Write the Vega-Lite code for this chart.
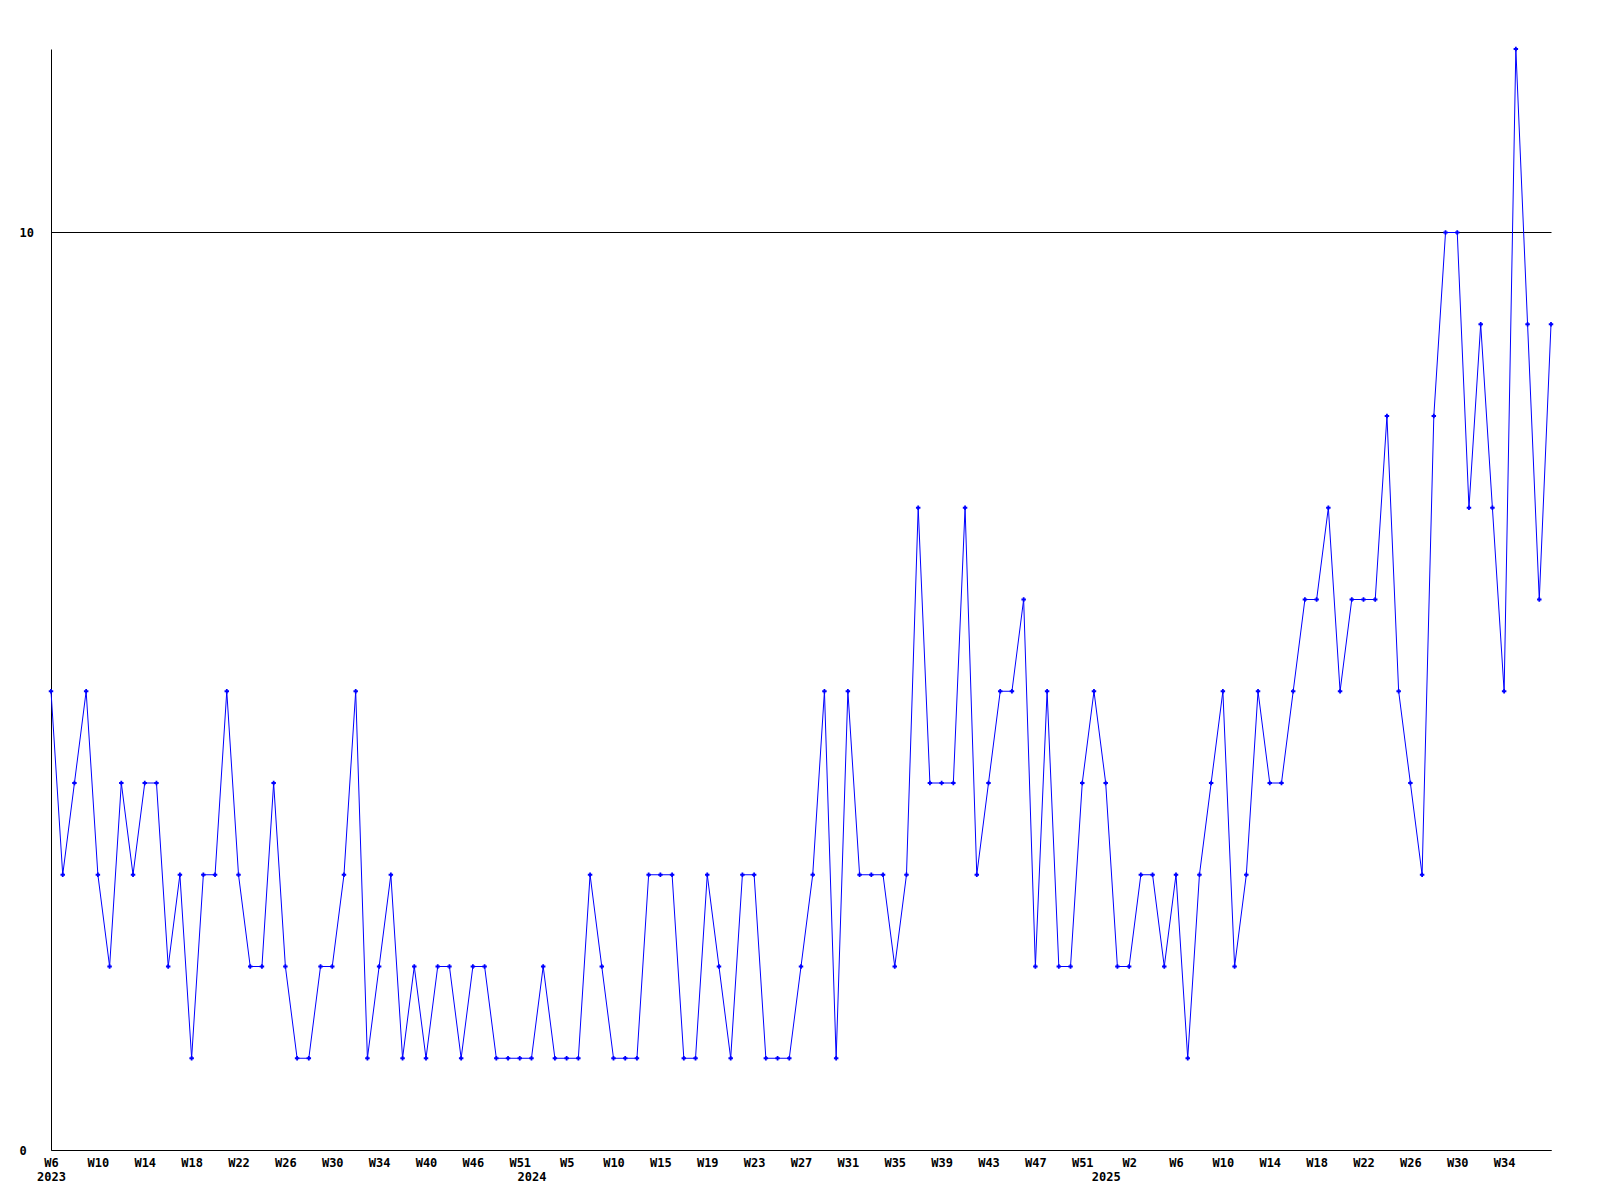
{
  "$schema": "https://vega.github.io/schema/vega-lite/v6.json",
  "width": 1500,
  "height": 1101,
  "autosize": {"type": "none"},
  "padding": {"left": 51, "top": 49, "right": 49, "bottom": 50},
  "background": "white",
  "config": {"view": {"stroke": null}},
  "data": {"values": [
    {"week": "2023-W6", "value": 5}, {"week": "2023-W7", "value": 3}, {"week": "2023-W8", "value": 4}, {"week": "2023-W9", "value": 5},
    {"week": "2023-W10", "value": 3}, {"week": "2023-W11", "value": 2}, {"week": "2023-W12", "value": 4}, {"week": "2023-W13", "value": 3},
    {"week": "2023-W14", "value": 4}, {"week": "2023-W15", "value": 4}, {"week": "2023-W16", "value": 2}, {"week": "2023-W17", "value": 3},
    {"week": "2023-W18", "value": 1}, {"week": "2023-W19", "value": 3}, {"week": "2023-W20", "value": 3}, {"week": "2023-W21", "value": 5},
    {"week": "2023-W22", "value": 3}, {"week": "2023-W23", "value": 2}, {"week": "2023-W24", "value": 2}, {"week": "2023-W25", "value": 4},
    {"week": "2023-W26", "value": 2}, {"week": "2023-W27", "value": 1}, {"week": "2023-W28", "value": 1}, {"week": "2023-W29", "value": 2},
    {"week": "2023-W30", "value": 2}, {"week": "2023-W31", "value": 3}, {"week": "2023-W32", "value": 5}, {"week": "2023-W33", "value": 1},
    {"week": "2023-W34", "value": 2}, {"week": "2023-W35", "value": 3}, {"week": "2023-W37", "value": 1}, {"week": "2023-W38", "value": 2},
    {"week": "2023-W40", "value": 1}, {"week": "2023-W41", "value": 2}, {"week": "2023-W43", "value": 2}, {"week": "2023-W44", "value": 1},
    {"week": "2023-W46", "value": 2}, {"week": "2023-W47", "value": 2}, {"week": "2023-W48", "value": 1}, {"week": "2023-W50", "value": 1},
    {"week": "2023-W51", "value": 1}, {"week": "2024-W1", "value": 1}, {"week": "2024-W2", "value": 2}, {"week": "2024-W4", "value": 1},
    {"week": "2024-W5", "value": 1}, {"week": "2024-W6", "value": 1}, {"week": "2024-W7", "value": 3}, {"week": "2024-W9", "value": 2},
    {"week": "2024-W10", "value": 1}, {"week": "2024-W11", "value": 1}, {"week": "2024-W12", "value": 1}, {"week": "2024-W14", "value": 3},
    {"week": "2024-W15", "value": 3}, {"week": "2024-W16", "value": 3}, {"week": "2024-W17", "value": 1}, {"week": "2024-W18", "value": 1},
    {"week": "2024-W19", "value": 3}, {"week": "2024-W20", "value": 2}, {"week": "2024-W21", "value": 1}, {"week": "2024-W22", "value": 3},
    {"week": "2024-W23", "value": 3}, {"week": "2024-W24", "value": 1}, {"week": "2024-W25", "value": 1}, {"week": "2024-W26", "value": 1},
    {"week": "2024-W27", "value": 2}, {"week": "2024-W28", "value": 3}, {"week": "2024-W29", "value": 5}, {"week": "2024-W30", "value": 1},
    {"week": "2024-W31", "value": 5}, {"week": "2024-W32", "value": 3}, {"week": "2024-W33", "value": 3}, {"week": "2024-W34", "value": 3},
    {"week": "2024-W35", "value": 2}, {"week": "2024-W36", "value": 3}, {"week": "2024-W37", "value": 7}, {"week": "2024-W38", "value": 4},
    {"week": "2024-W39", "value": 4}, {"week": "2024-W40", "value": 4}, {"week": "2024-W41", "value": 7}, {"week": "2024-W42", "value": 3},
    {"week": "2024-W43", "value": 4}, {"week": "2024-W44", "value": 5}, {"week": "2024-W45", "value": 5}, {"week": "2024-W46", "value": 6},
    {"week": "2024-W47", "value": 2}, {"week": "2024-W48", "value": 5}, {"week": "2024-W49", "value": 2}, {"week": "2024-W50", "value": 2},
    {"week": "2024-W51", "value": 4}, {"week": "2024-W52", "value": 5}, {"week": "2025-W0", "value": 4}, {"week": "2025-W1", "value": 2},
    {"week": "2025-W2", "value": 2}, {"week": "2025-W3", "value": 3}, {"week": "2025-W4", "value": 3}, {"week": "2025-W5", "value": 2},
    {"week": "2025-W6", "value": 3}, {"week": "2025-W7", "value": 1}, {"week": "2025-W8", "value": 3}, {"week": "2025-W9", "value": 4},
    {"week": "2025-W10", "value": 5}, {"week": "2025-W11", "value": 2}, {"week": "2025-W12", "value": 3}, {"week": "2025-W13", "value": 5},
    {"week": "2025-W14", "value": 4}, {"week": "2025-W15", "value": 4}, {"week": "2025-W16", "value": 5}, {"week": "2025-W17", "value": 6},
    {"week": "2025-W18", "value": 6}, {"week": "2025-W19", "value": 7}, {"week": "2025-W20", "value": 5}, {"week": "2025-W21", "value": 6},
    {"week": "2025-W22", "value": 6}, {"week": "2025-W23", "value": 6}, {"week": "2025-W24", "value": 8}, {"week": "2025-W25", "value": 5},
    {"week": "2025-W26", "value": 4}, {"week": "2025-W27", "value": 3}, {"week": "2025-W28", "value": 8}, {"week": "2025-W29", "value": 10},
    {"week": "2025-W30", "value": 10}, {"week": "2025-W31", "value": 7}, {"week": "2025-W32", "value": 9}, {"week": "2025-W33", "value": 7},
    {"week": "2025-W34", "value": 5}, {"week": "2025-W35", "value": 12}, {"week": "2025-W36", "value": 9}, {"week": "2025-W37", "value": 6},
    {"week": "2025-W38", "value": 9}
  ]},
  "encoding": {
    "x": {
      "field": "week",
      "type": "ordinal",
      "sort": null,
      "scale": {"type": "point", "padding": 0},
      "axis": {
        "title": null,
        "values": ["2023-W6", "2023-W10", "2023-W14", "2023-W18", "2023-W22", "2023-W26", "2023-W30", "2023-W34", "2023-W40", "2023-W46", "2023-W51", "2024-W1", "2024-W5", "2024-W10", "2024-W15", "2024-W19", "2024-W23", "2024-W27", "2024-W31", "2024-W35", "2024-W39", "2024-W43", "2024-W47", "2024-W51", "2025-W0", "2025-W2", "2025-W6", "2025-W10", "2025-W14", "2025-W18", "2025-W22", "2025-W26", "2025-W30", "2025-W34"],
        "labelExpr": "datum.value == '2024-W1' ? ['', '2024'] : datum.value == '2025-W0' ? ['', '2025'] : datum.value == '2023-W6' ? ['W6', '2023'] : split(datum.value, '-')[1]",
        "ticks": false,
        "grid": false,
        "labelAngle": 0,
        "labelAlign": "center",
        "labelBaseline": "top",
        "labelPadding": 7,
        "labelDx": -1,
        "labelLineHeight": 14,
        "labelOverlap": false,
        "labelFlush": false,
        "labelBound": false,
        "labelFont": "DejaVu Sans Mono",
        "labelFontWeight": "bold",
        "labelFontSize": 12,
        "labelColor": "#000000",
        "domainColor": "#000000",
        "domainWidth": 1
      }
    },
    "y": {
      "field": "value",
      "type": "quantitative",
      "scale": {"domain": [0, 12], "nice": false, "zero": true},
      "axis": {
        "title": null,
        "values": [0, 10],
        "ticks": false,
        "grid": true,
        "gridColor": "#000000",
        "gridOpacity": 1,
        "gridWidth": 1,
        "labelAlign": "left",
        "labelPadding": 32,
        "labelFont": "DejaVu Sans Mono",
        "labelFontWeight": "bold",
        "labelFontSize": 12,
        "labelColor": "#000000",
        "domainColor": "#000000",
        "domainWidth": 1
      }
    }
  },
  "layer": [
    {"mark": {"type": "line", "color": "#0000ff", "strokeWidth": 1, "interpolate": "linear"}},
    {"mark": {"type": "point", "shape": "cross", "filled": true, "size": 20, "color": "#0000ff", "opacity": 1}}
  ]
}
